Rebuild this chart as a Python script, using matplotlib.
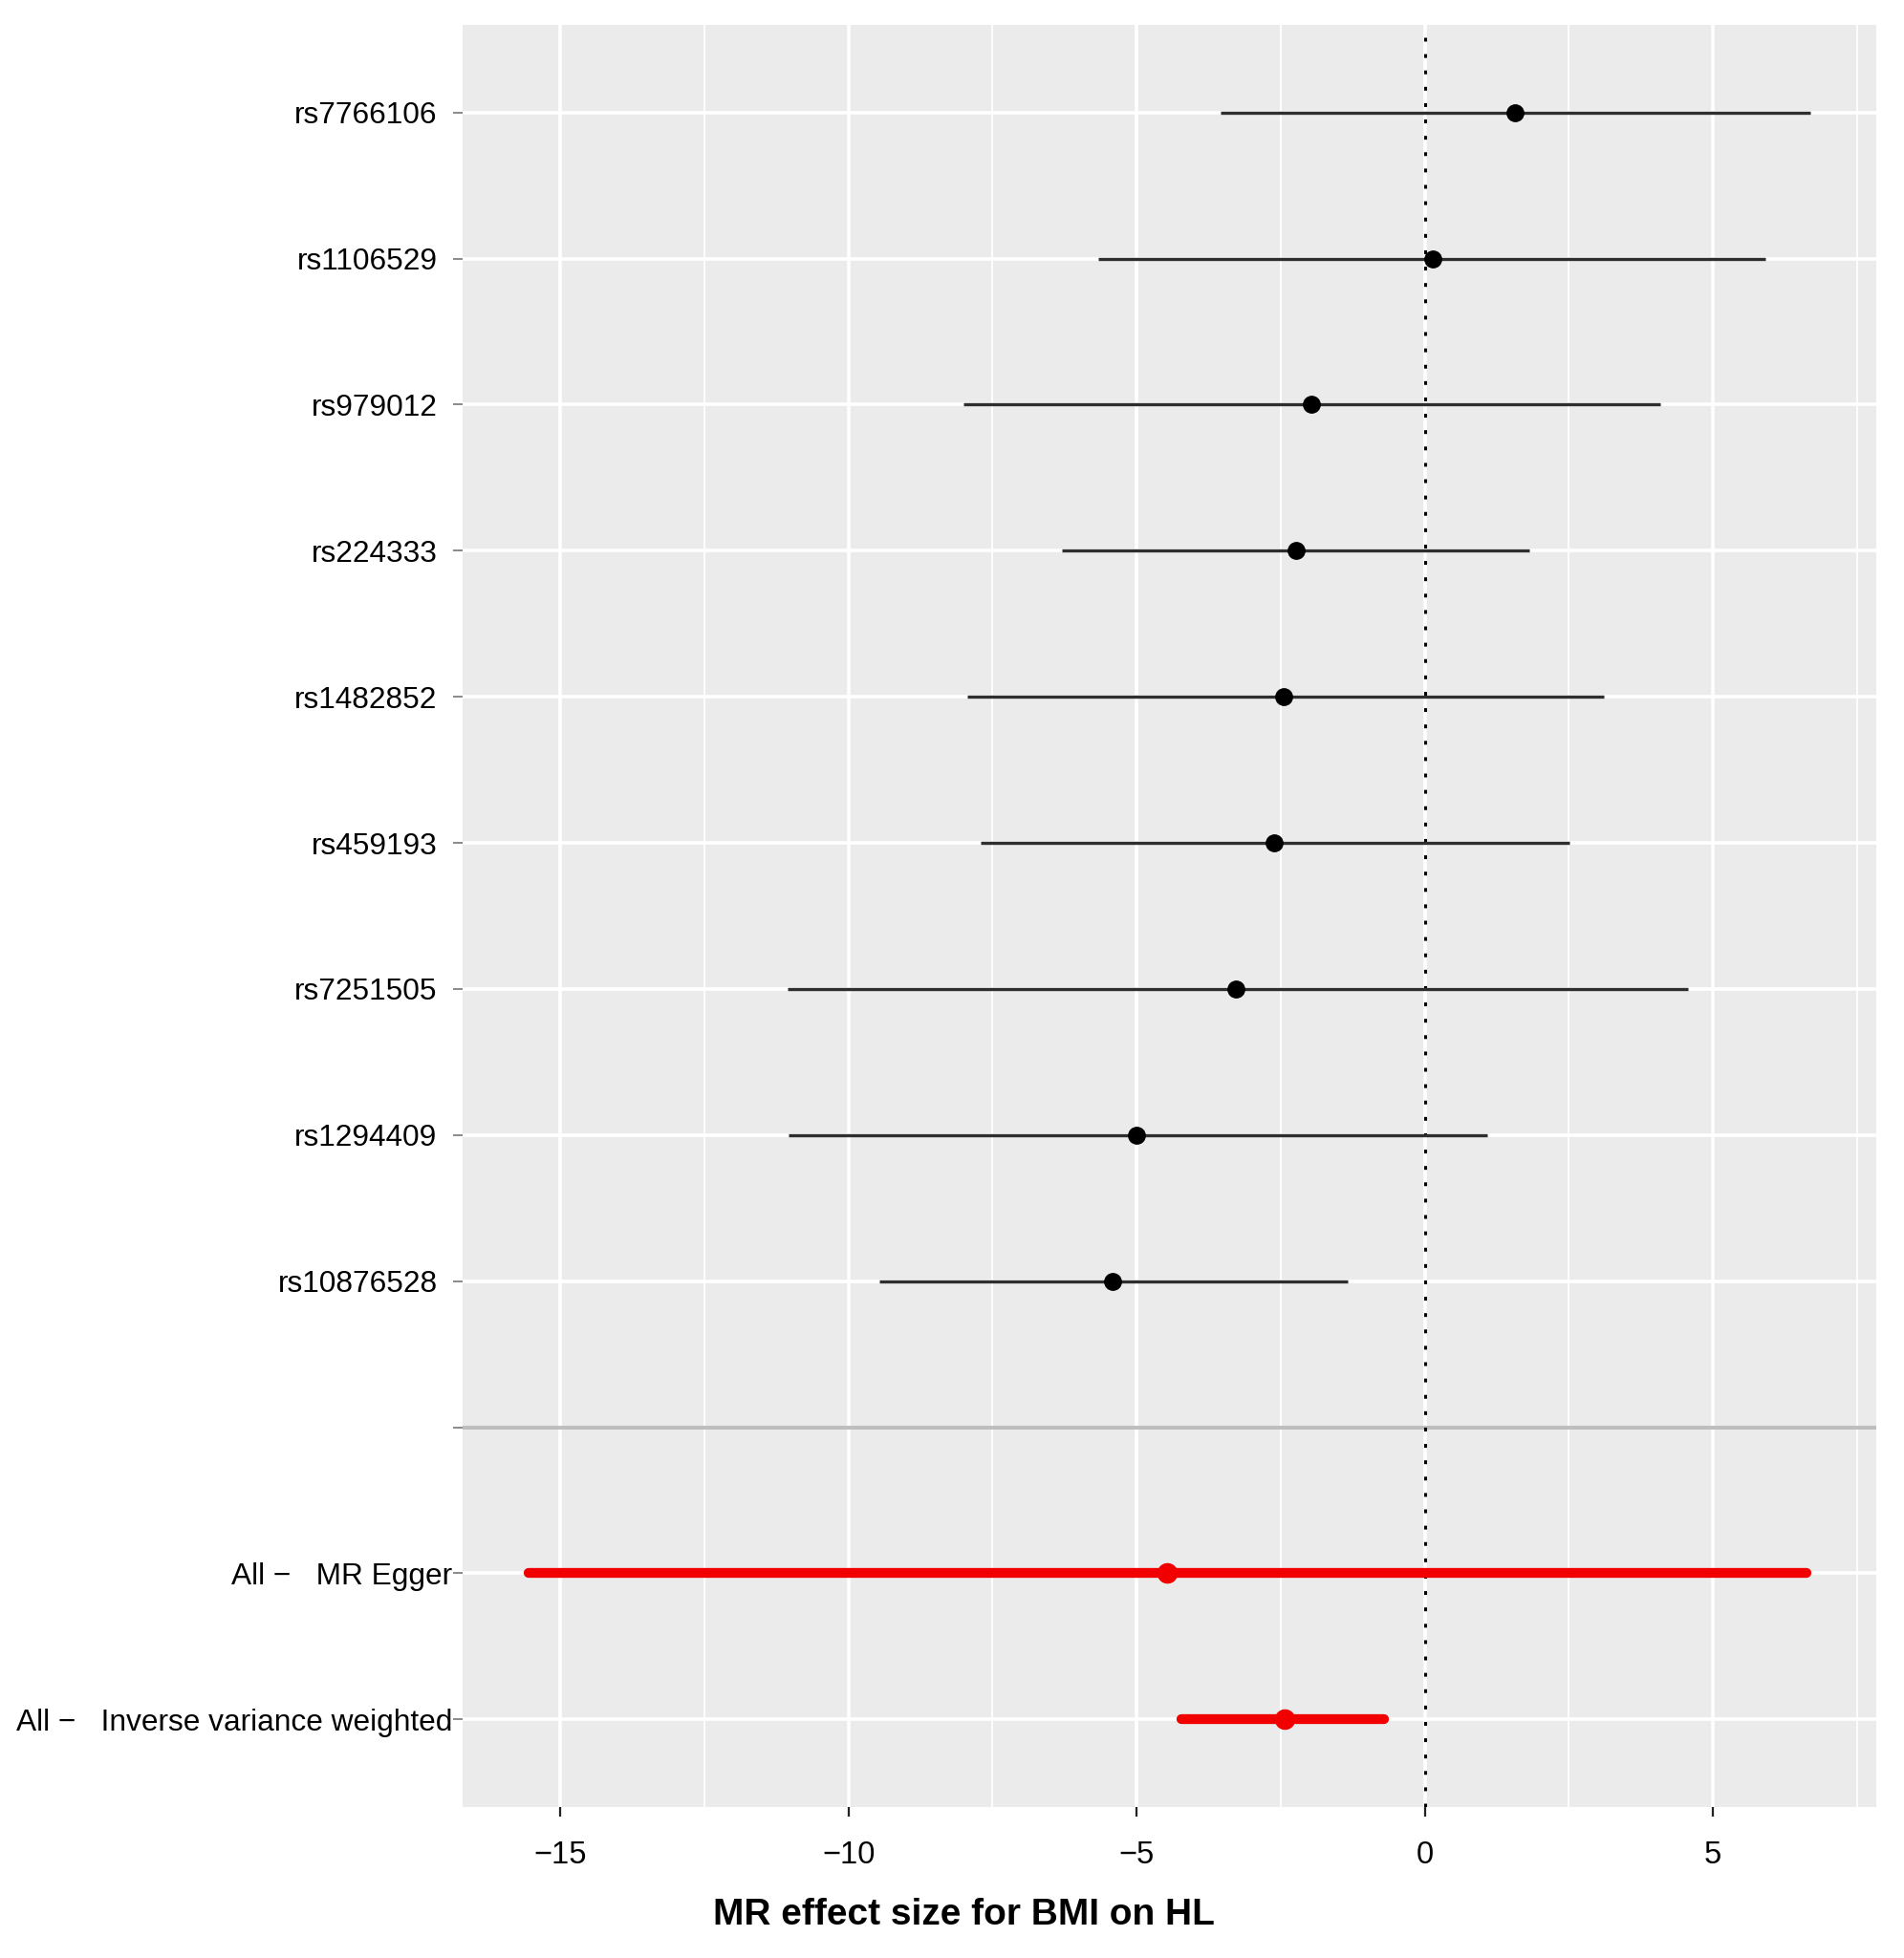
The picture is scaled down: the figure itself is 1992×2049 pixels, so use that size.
import numpy as np
import matplotlib
matplotlib.use('Agg')
import matplotlib.pyplot as plt

plt.rcParams['font.family'] = ['Liberation Sans', 'DejaVu Sans']

# single SNP estimates (top to bottom)
snps = ['rs7766106', 'rs1106529', 'rs979012', 'rs224333', 'rs1482852',
        'rs459193', 'rs7251505', 'rs1294409', 'rs10876528']
snp_b = [1.56, 0.13, -1.97, -2.23, -2.45, -2.62, -3.27, -5.00, -5.41]
snp_lo = [-3.55, -5.67, -8.01, -6.30, -7.94, -7.71, -11.06, -11.04, -9.46]
snp_hi = [6.69, 5.91, 4.09, 1.82, 3.10, 2.51, 4.57, 1.08, -1.34]

# combined estimates
methods = ['All \u2212   MR Egger', 'All \u2212   Inverse variance weighted']
mr_b = [-4.47, -2.44]
mr_lo = [-15.55, -4.22]
mr_hi = [6.62, -0.70]

xlabel = 'MR effect size for BMI on HL'

fig = plt.figure(figsize=(19.92, 20.49), dpi=100)
ax = fig.add_axes([484/1992, 158/2049, (1963-484)/1992, (1891-26)/2049])
ax.set_facecolor('#EBEBEB')
for s in ax.spines.values():
    s.set_visible(False)

n = len(snps)
y_snp = np.arange(1, n + 1)
y_sep = n + 1
y_mr = np.arange(n + 2, n + 2 + len(methods))

# x limits like ggplot (5% expansion)
allx = snp_lo + snp_hi + mr_lo + mr_hi
xmin, xmax = min(allx), max(allx)
r = xmax - xmin
ax.set_xlim(xmin - 0.05 * r - 0.03, xmax + 0.05 * r + 0.03)
ax.set_ylim(y_mr[-1] + 0.6, 0.4)

ax.set_xticks([-15, -10, -5, 0, 5])
ax.set_xticks([-12.5, -7.5, -2.5, 2.5, 7.5], minor=True)
ax.grid(which='major', axis='x', color='white', lw=2.6)
ax.grid(which='minor', axis='x', color='white', lw=1.3)
ax.set_yticks(list(y_snp) + [y_sep] + list(y_mr))
ax.set_yticklabels(snps + [''] + methods)
ax.grid(which='major', axis='y', color='white', lw=2.6)
ax.set_axisbelow(True)

ax.axhline(y_sep, color='#BEBEBE', lw=2.9, zorder=1)
ax.axvline(0, color='black', lw=2.2, linestyle=(0, (1.3, 4.3)), zorder=2)

ax.hlines(y_snp, snp_lo, snp_hi, color='#2E2E2E', lw=2.4, zorder=3)
ax.plot(snp_b, y_snp, 'o', color='black', ms=12.5, zorder=4)

ax.hlines(y_mr, mr_lo, mr_hi, color='#F20000', lw=7.4, capstyle='round', zorder=3)
ax.plot(mr_b, y_mr, 'o', color='#F20000', ms=14.5, zorder=4)

ax.tick_params(axis='y', which='major', length=7, width=1.4, color='#8A8A8A',
               labelsize=22.8, pad=12)
ax.tick_params(axis='x', which='major', length=7, width=1.6, color='#222222',
               labelsize=23.5, pad=18)
ax.tick_params(axis='x', which='minor', length=0)
ticks = ax.yaxis.get_major_ticks()
for t in ticks[-len(methods):]:
    t.set_pad(1)

fig.text(1008/1992, 1 - 2004/2049, xlabel, ha='center', va='center',
         fontsize=28, fontweight='bold')

fig.savefig('out.png', dpi=100, facecolor='white')
